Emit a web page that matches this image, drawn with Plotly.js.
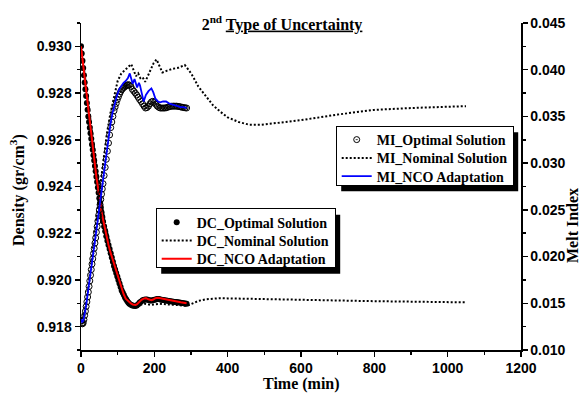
<!DOCTYPE html>
<html><head><meta charset="utf-8">
<script src="https://cdn.plot.ly/plotly-3.0.1.min.js"></script>
<style>html,body{margin:0;padding:0;background:#fff}#chart{width:582px;height:403px}</style>
</head><body><div id="chart"></div>
<script>
// time grid (min) for the optimal-solution markers
const tOpt = [0,2,4,6,8,10,12,14,16,18,20,22,24,26,28,30,32,34,36,38,40,42,44,46,48,50,52,54,56,58,60,
  63,66,69,72,75,78,81,84,87,90,93,96,99,102,105,108,111,114,117,120,123,126,129,
  132,136,140,144,148,152,156,160,164,168,172,176,180,184,188,192,196,200,204,208,212,216,220,224,228,232,236,240,244,248,252,256,260,264,268,272,276,280,284,288];
// time grid (min) for the NCO-adaptation lines
const tNco = [0,3,6,9,12,15,18,21,24,27,30,34,38,42,46,50,55,60,65,70,75,80,86,92,98,104,110,116,122,128,
  133,137,141,146,149,153,158,161,165,171,177,184,192,197,203,210,216,224,232,240,248,256,264,272,280,288];
// time grid (min) for the nominal runs
const tNom = [0,10,20,30,40,50,60,70,80,90,100,110,120,130,137,144,150,156,162,168,175,182,190,198,206,214,222,235,250,265,283,295,305,320,340,360,380,400,430,460,490,540,600,700,800,900,1000,1050];

// Density (gr/cm3)
const dcOpt = [0.93000,0.92969,0.92938,0.92907,0.92876,0.92845,0.92816,0.92787,0.92758,0.92729,0.92700,0.92676,0.92652,0.92628,0.92604,0.92580,0.92557,0.92534,0.92511,0.92488,0.92465,0.92442,0.92419,0.92396,0.92373,0.92350,0.92330,0.92310,0.92290,0.92270,0.92250,
  0.92229,0.92208,0.92187,0.92168,0.92150,0.92132,0.92114,0.92096,0.92078,0.92060,0.92045,0.92030,0.92015,0.92000,0.91985,0.91970,0.91955,0.91945,0.91935,0.91925,0.91917,0.91910,0.91903,
  0.91898,0.91894,0.91890,0.91889,0.91888,0.91890,0.91896,0.91903,0.91908,0.91913,0.91915,0.91916,0.91916,0.91914,0.91912,0.91912,0.91913,0.91915,0.91916,0.91918,0.91918,0.91916,0.91915,0.91914,0.91913,0.91912,0.91911,0.91910,0.91909,0.91908,0.91907,0.91906,0.91905,0.91904,0.91903,0.91902,0.91901,0.91900,0.91899,0.91898];
const dcNom = [0.9300,0.92875,0.9275,0.9262,0.9250,0.9239,0.9229,0.9221,0.9214,0.9208,
  0.9202,0.9197,0.9193,0.9190,0.91888,0.91883,0.91882,0.91886,0.91892,0.91897,
  0.91898,0.91896,0.91893,0.91895,0.91898,0.91898,0.91897,0.91895,0.91893,0.91891,
  0.91890,0.91893,0.91900,0.91910,0.91917,0.91921,0.91922,0.91921,0.91920,0.91918,
  0.91917,0.91915,0.91913,0.91911,0.91909,0.91907,0.91905,0.91904];
const dcNco = [0.9300,0.9296,0.9291,0.9287,0.9283,0.9279,0.9274,0.9270,0.9266,0.9262,
  0.9259,0.9254,0.9249,0.9244,0.9240,0.9235,
  0.9230,0.9226,0.9222,0.9219,0.9215,0.9212,
  0.9209,0.9205,0.9202,0.9199,0.9196,0.9194,0.9192,0.9191,
  0.91902,0.91898,0.91895,0.91893,0.91893,0.91896,0.91905,0.91910,0.91915,0.91920,0.91922,0.91917,0.91913,0.91916,0.91922,
  0.91924,0.91922,0.91918,0.91915,0.91912,0.91910,0.91908,0.91906,0.91904,0.91902,0.91900];

// Melt Index
const miOpt = [0.01310,0.01285,0.01280,0.01290,0.01325,0.01370,0.01415,0.01465,0.01515,0.01567,0.01620,0.01680,0.01740,0.01800,0.01860,0.01920,0.01976,0.02032,0.02088,0.02144,0.02200,0.02260,0.02320,0.02380,0.02440,0.02500,0.02556,0.02612,0.02668,0.02724,0.02780,
  0.02867,0.02954,0.03041,0.03128,0.03215,0.03302,0.03380,0.03440,0.03500,0.03560,0.03600,0.03640,0.03680,0.03710,0.03740,0.03765,0.03785,0.03800,0.03810,0.03820,0.03828,0.03836,0.03840,
  0.03836,0.03822,0.03790,0.03770,0.03750,0.03730,0.03705,0.03680,0.03660,0.03635,0.03610,0.03590,0.03595,0.03610,0.03635,0.03655,0.03662,0.03650,0.03630,0.03610,0.03598,0.03590,0.03590,0.03590,0.03590,0.03592,0.03598,0.03603,0.03607,0.03610,0.03610,0.03610,0.03610,0.03608,0.03605,0.03602,0.03598,0.03595,0.03592,0.03590];
const miNom = [0.0133,0.0141,0.0168,0.0199,0.0233,0.0268,0.0300,0.0330,0.0353,0.0370,
  0.0388,0.0396,0.0400,0.0404,0.0406,0.0399,0.0393,0.0396,0.0391,0.0392,
  0.0387,0.0393,0.0401,0.0407,0.0411,0.0403,0.0397,0.0399,0.0401,0.0402,
  0.0405,0.0399,0.0393,0.0382,0.0372,0.0362,0.0355,0.0349,0.0344,0.0341,
  0.0341,0.0343,0.0346,0.0352,0.0357,0.0359,0.0360,0.0361];
const miNco = [0.0133,0.0130,0.0131,0.0136,0.0143,0.0151,0.0159,0.0167,0.0176,0.0185,
  0.0194,0.0205,0.0216,0.0228,0.0240,0.0252,
  0.0266,0.0280,0.0294,0.0310,0.0326,0.0341,
  0.0354,0.0364,0.0372,0.0379,0.0383,0.0386,0.0388,0.0391,
  0.0396,0.0391,0.0385,0.0390,0.0386,0.0381,0.0386,0.0383,0.0376,0.0366,0.0373,0.0377,0.0380,0.0376,0.0369,
  0.0366,0.0365,0.0366,0.0366,0.0364,0.0363,0.0362,0.0361,0.0360,0.0360,0.0359];

const serif = 'Liberation Serif, Times New Roman, serif';
const sans = 'Liberation Sans, Arial, sans-serif';

const traces = [
  {x:tOpt, y:dcOpt, type:'scatter', mode:'markers', name:'DC_Optimal Solution',
   marker:{color:'#000', size:6, symbol:'circle'}, legend:'legend'},
  {x:tNom, y:dcNom, type:'scatter', mode:'lines', name:'DC_Nominal Solution',
   line:{color:'#000', width:2, dash:'2px,2px'}, legend:'legend'},
  {x:tNco, y:dcNco, type:'scatter', mode:'lines', name:'DC_NCO Adaptation',
   line:{color:'#ff0000', width:2}, legend:'legend'},
  {x:tOpt, y:miOpt, type:'scatter', mode:'markers', name:'MI_Optimal Solution', yaxis:'y2',
   marker:{color:'#000', size:6, symbol:'circle-open-dot', line:{width:1, color:'#000'}}, legend:'legend2'},
  {x:tNom, y:miNom, type:'scatter', mode:'lines', name:'MI_Nominal Solution', yaxis:'y2',
   line:{color:'#000', width:2, dash:'2px,2px'}, legend:'legend2'},
  {x:tNco, y:miNco, type:'scatter', mode:'lines', name:'MI_NCO Adaptation', yaxis:'y2',
   line:{color:'#0000ff', width:1.8}, legend:'legend2'}
];

const tickStyle = {ticks:'outside', ticklen:5, tickwidth:1.5, tickcolor:'#000',
  showline:true, linecolor:'#000', linewidth:1.5, showgrid:false, zeroline:false,
  tickfont:{family:sans, size:14, color:'#000', weight:'bold'}};

const legendStyle = {xanchor:'left', yanchor:'top', bgcolor:'#fff', bordercolor:'#000', borderwidth:1,
  font:{family:serif, size:14, color:'#000', weight:'bold'}, tracegroupgap:0, itemwidth:30};

const titleFont = {family:serif, size:16, color:'#000', weight:'bold'};

const layout = {
  width:582, height:403,
  margin:{l:81, r:61, t:23, b:53, pad:0},
  paper_bgcolor:'#fff', plot_bgcolor:'#fff',
  showlegend:true,
  title:{text:'2<sup>nd</sup> <u>Type of Uncertainty</u>', x:282/582, xanchor:'center',
    yref:'container', y:1-24/403, yanchor:'middle', font:titleFont},
  xaxis:Object.assign({}, tickStyle, {range:[0,1200], tick0:0, dtick:200,
    minor:{dtick:100, ticks:'outside', ticklen:3, tickwidth:1.5, tickcolor:'#000', showgrid:false}}),
  yaxis:Object.assign({}, tickStyle, {range:[0.917,0.931], tick0:0.918, dtick:0.002, tickformat:'.3f',
    minor:{dtick:0.001, ticks:'outside', ticklen:3, tickwidth:1.5, tickcolor:'#000', showgrid:false}}),
  yaxis2:Object.assign({}, tickStyle, {range:[0.010,0.045], tick0:0.010, dtick:0.005, tickformat:'.3f',
    overlaying:'y', side:'right',
    minor:{dtick:0.0025, ticks:'outside', ticklen:3, tickwidth:1.5, tickcolor:'#000', showgrid:false}}),
  legend:Object.assign({}, legendStyle, {x:(155.7-81)/440, y:(350-208.3)/327}),
  legend2:Object.assign({}, legendStyle, {x:(335.7-81)/440, y:(350-125.7)/327}),
  annotations:[
    {text:'Time (min)', xref:'paper', yref:'paper', x:0.5, y:(350-384)/327, xanchor:'center', yanchor:'middle',
     showarrow:false, font:titleFont},
    {text:'Density (gr/cm<sup>3</sup>)', xref:'paper', yref:'paper', x:(17-81)/440, y:(350-190)/327,
     xanchor:'center', yanchor:'middle', textangle:-90, showarrow:false, font:titleFont},
    {text:'Melt Index', xref:'paper', yref:'paper', x:(572-81)/440, y:(350-226)/327,
     xanchor:'center', yanchor:'middle', textangle:-90, showarrow:false, font:titleFont}
  ]
};

// compact the legend rows to the reference spacing
function tightenLegend(gd, id) {
  const lg = gd.querySelector('g.' + id);
  if (!lg) return;
  const bg = lg.querySelector('rect.bg');
  const by = parseFloat(bg.getAttribute('y')) || 0;
  lg.querySelectorAll('g.traces').forEach((it, i) => {
    const tr = it.getAttribute('transform') || '';
    const m = tr.match(/translate\(\s*([-\d.e]+)[\s,]+([-\d.e]+)\s*\)/);
    const x = m ? parseFloat(m[1]) : 0;
    it.setAttribute('transform', 'translate(' + x + ',' + (by + 13.4 + i * 18.3) + ')');
  });
  bg.setAttribute('height', 59);
}

Plotly.newPlot('chart', traces, layout, {staticPlot:true, displayModeBar:false}).then(gd => {
  tightenLegend(gd, 'legend');
  tightenLegend(gd, 'legend2');
  const root = gd.getBoundingClientRect();
  const sz = gd._fullLayout._size;
  const shapes = [];
  ['legend','legend2'].forEach(id => {
    const bg = gd.querySelector('g.' + id + ' rect.bg');
    if (!bg) return;
    const r = bg.getBoundingClientRect();
    const x0 = r.left - root.left + 5, x1 = r.right - root.left + 5;
    const y0 = r.top - root.top + 6, y1 = r.bottom - root.top + 6;
    shapes.push({type:'rect', xref:'paper', yref:'paper',
      x0:(x0 - sz.l)/sz.w, x1:(x1 - sz.l)/sz.w,
      y0:1 - (y1 - sz.t)/sz.h, y1:1 - (y0 - sz.t)/sz.h,
      fillcolor:'#000', line:{width:0}, layer:'above'});
  });
  return Plotly.relayout(gd, {shapes: shapes}).then(() => {
    tightenLegend(gd, 'legend');
    tightenLegend(gd, 'legend2');
  });
});
</script>
</body></html>
